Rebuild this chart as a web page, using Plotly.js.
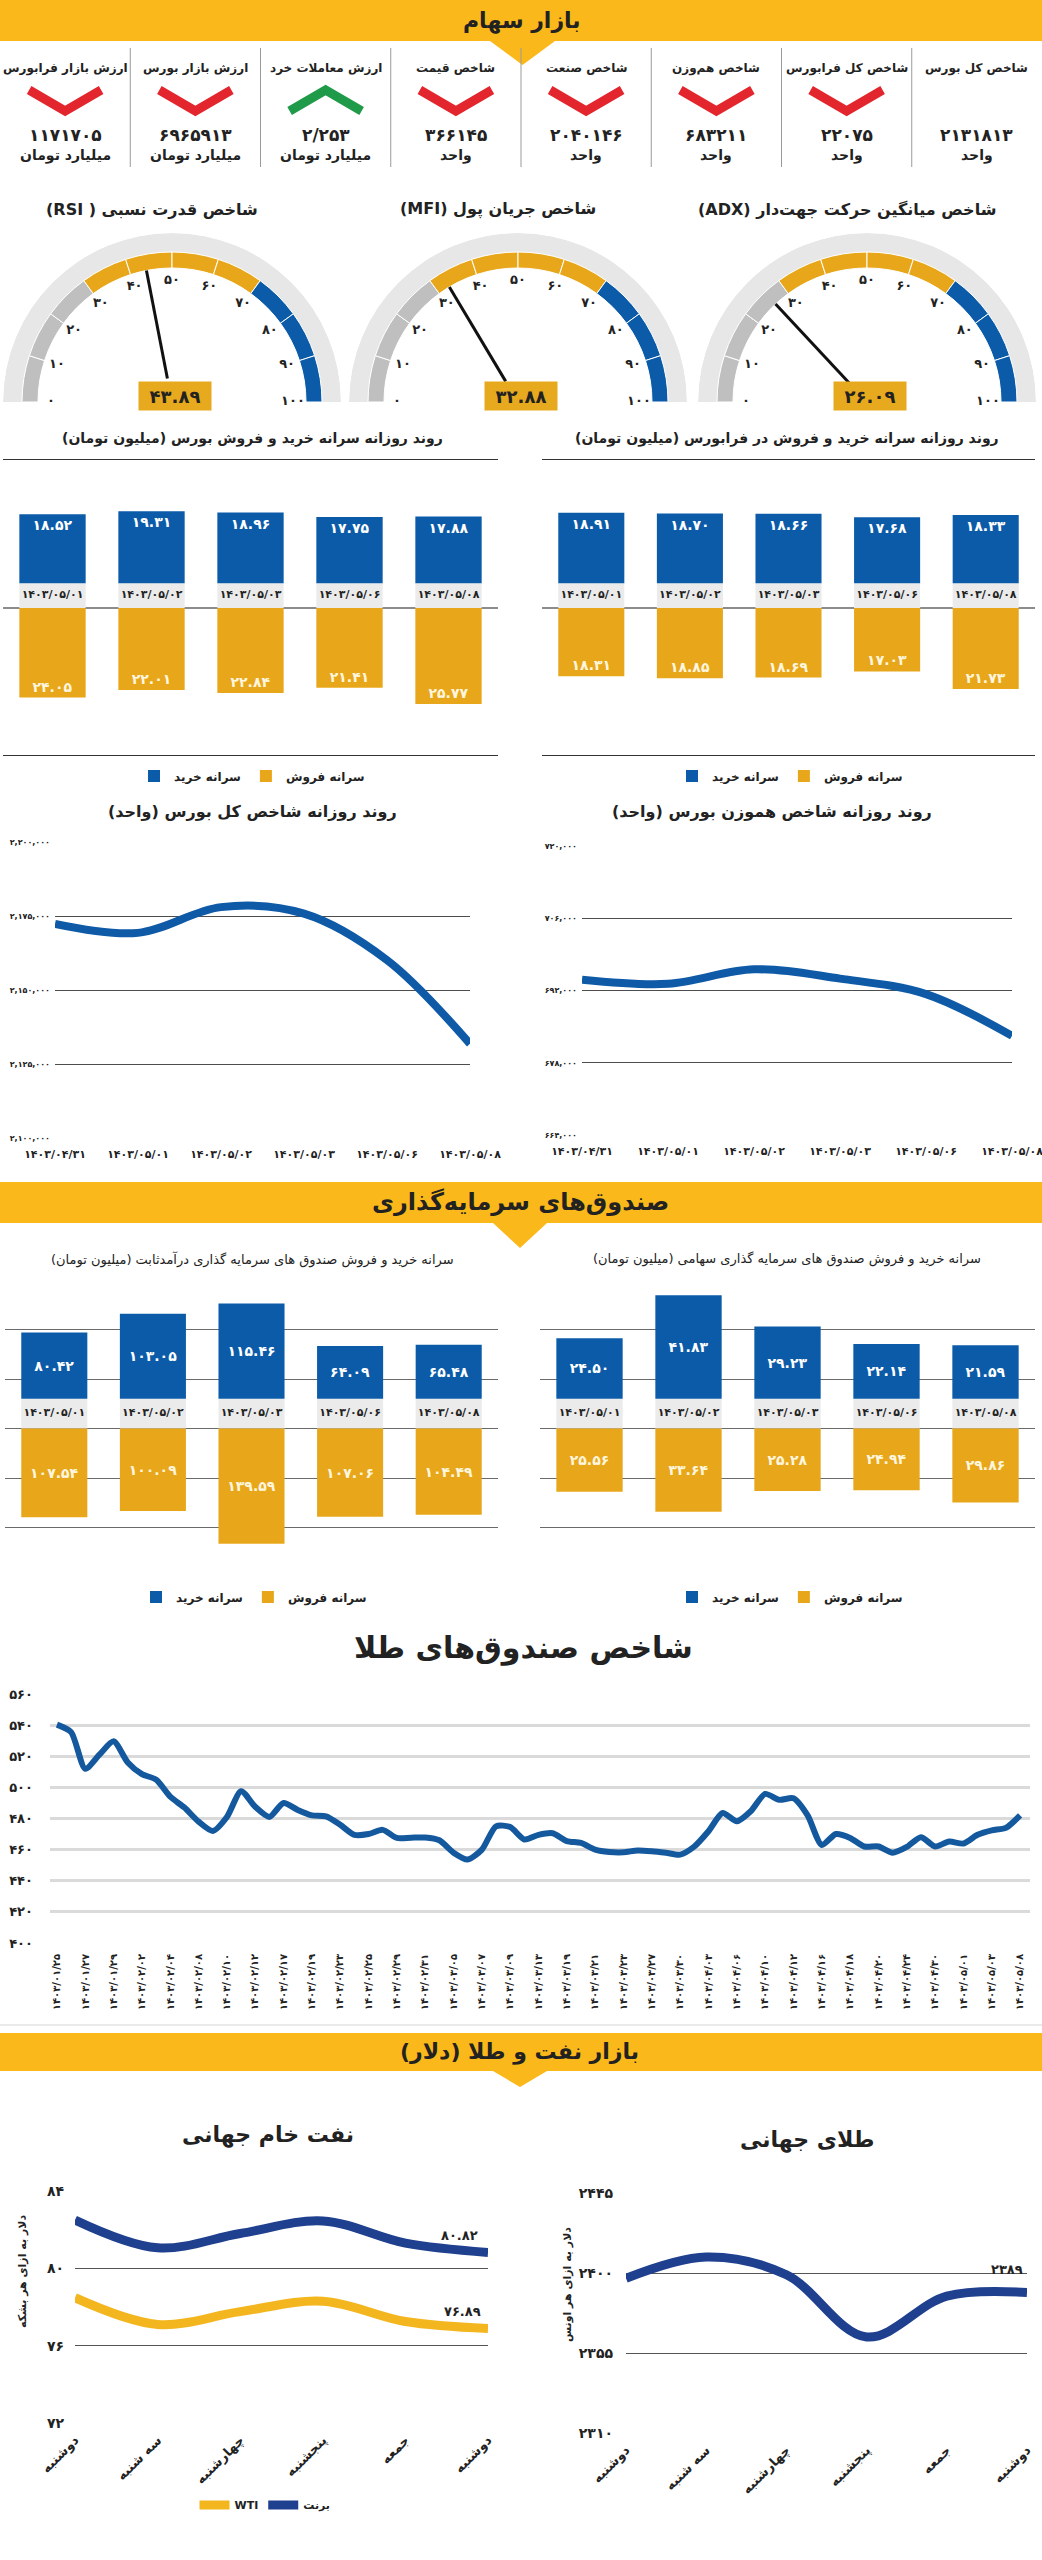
<!DOCTYPE html>
<html><head><meta charset="utf-8">
<script src="https://cdn.plot.ly/plotly-3.0.1.min.js"></script>
<style>html,body{margin:0;padding:0;background:#fff}#chart{width:1042px;height:2560px}</style>
</head><body><div id="chart"></div>
<script>
// ---------------- DATA ----------------
const statTitles = ['ارزش بازار فرابورس','ارزش بازار بورس','ارزش معاملات خرد','شاخص قیمت','شاخص صنعت','شاخص هم‌وزن','شاخص کل فرابورس','شاخص کل بورس'];
const statValues = ['1171705','6965913','2/253','366145','2040146','683211','22075','2131813'];
const statUnits = ['میلیارد تومان','میلیارد تومان','میلیارد تومان','واحد','واحد','واحد','واحد','واحد'];
const statTrend = [-1,-1,1,-1,-1,-1,-1,0];

const gaugeTitles = ['شاخص قدرت نسبی ( RSI)','شاخص جریان پول (MFI)','شاخص میانگین حرکت جهت‌دار (ADX)'];
const gaugeValues = [43.89, 32.88, 26.09];
const gaugeTicks = [0,10,20,30,40,50,60,70,80,90,100];
const gaugeZones = [30, 70];

const days5 = ['1403/05/01','1403/05/02','1403/05/03','1403/05/06','1403/05/08'];
const bourseBuy = [18.52, 19.31, 18.96, 17.75, 17.88];
const bourseSell = [24.05, 22.01, 22.84, 21.41, 25.77];
const faraBuy = [18.91, 18.70, 18.66, 17.68, 18.33];
const faraSell = [18.31, 18.85, 18.69, 17.03, 21.73];

const days6 = ['1403/04/31','1403/05/01','1403/05/02','1403/05/03','1403/05/06','1403/05/08'];
const tedpix = [2172300, 2169300, 2178000, 2175800, 2160100, 2131813];
const tedpixTicks = [2100000, 2125000, 2150000, 2175000, 2200000];
const hamvazn = [694100, 693300, 696100, 694300, 691300, 683211];
const hamvaznTicks = [664000, 678000, 692000, 706000, 720000];

const fixedBuy = [80.42, 103.05, 115.46, 64.09, 65.48];
const fixedSell = [107.54, 100.09, 139.59, 107.06, 104.49];
const equityBuy = [24.50, 41.83, 29.23, 22.14, 21.59];
const equitySell = [25.56, 33.64, 25.28, 24.94, 29.86];

const goldFundDates = ['1403/01/25','1403/01/27','1403/01/29','1403/02/02','1403/02/04','1403/02/08','1403/02/10','1403/02/12','1403/02/17','1403/02/19','1403/02/23','1403/02/25','1403/02/29','1403/02/31','1403/03/05','1403/03/07','1403/03/09','1403/03/13','1403/03/19','1403/03/21','1403/03/23','1403/03/27','1403/03/30','1403/04/03','1403/04/06','1403/04/10','1403/04/12','1403/04/16','1403/04/18','1403/04/20','1403/04/24','1403/04/30','1403/05/01','1403/05/03','1403/05/08'];
const goldFundIndex = [540.3,535.5,512,521,529.6,516,508.5,505,494,487,478,472,481,497.5,487.5,481,490,485.5,482,481.4,476,469.5,470,472.7,467.5,467.7,467.8,466,458,453.6,460,475,474.5,466.5,469.5,470.5,465.5,464.3,460,458.5,458.3,459.5,459,458,456.8,462,471.8,483.5,478.2,484.8,495.8,492,493,482,463,470,467.5,462,462,458,461.7,468,462,465.2,463.9,469.5,472.4,474,482];
const goldFundTicks = [400,420,440,460,480,500,520,540,560];

const weekdays = ['دوشنبه','سه شنبه','چهارشنبه','پنجشنبه','جمعه','دوشنبه'];
const brent = [82.5, 81.06, 81.8, 82.45, 81.3, 80.82];
const wti = [78.48, 77.1, 77.76, 78.3, 77.25, 76.89];
const oilTicks = [72, 76, 80, 84];
const worldGold = [2397, 2409, 2399, 2364, 2387, 2389];
const worldGoldTicks = [2310, 2355, 2400, 2445];

// ---------------- HELPERS ----------------
const W = 1042, H = 2560;
const fx = x => x / W;
const fy = y => 1 - y / H;
const fa = s => String(s).replace(/[0-9]/g, d => '۰۱۲۳۴۵۶۷۸۹'[+d]);
const rtl = s => '\u202B' + s + '\u202C';
const FONT = '"DejaVu Sans", "Noto Sans", sans-serif';
const BLUE = '#0b5ba9', GOLD = '#e8a71b', NAVY = '#1f3f8f', YEL = '#fbb81a', WTIC = '#f4b61e';
const axKey = (k, t) => t + 'axis' + (k > 1 ? k : '');
const axRef = (k, t) => t + (k > 1 ? k : '');
const f = (size, extra) => Object.assign({family: FONT, size: size, color: '#222', weight: 'bold'}, extra || {});

const traces = [], ann = [], shapes = [];
const layout = {
  width: W, height: H, margin: {l: 0, r: 0, t: 0, b: 0},
  paper_bgcolor: '#fff', plot_bgcolor: 'rgba(0,0,0,0)',
  barmode: 'overlay', font: {family: FONT, color: '#222'}, showlegend: true
};

function text(x, y, s, font, extra) {
  ann.push(Object.assign({xref: 'paper', yref: 'paper', x: fx(x), y: fy(y), text: s, showarrow: false,
    xanchor: 'center', yanchor: 'middle', font: font}, extra || {}));
}
function band(y0, y1, tipY, tx0, tx1) {
  shapes.push({type: 'rect', xref: 'paper', yref: 'paper', x0: 0, x1: 1, y0: fy(y1), y1: fy(y0), fillcolor: YEL, line: {width: 0}, layer: 'below'});
  shapes.push({type: 'path', xref: 'paper', yref: 'paper', layer: 'below',
    path: `M ${fx(tx0)},${fy(y1)} L ${fx(tx1)},${fy(y1)} L ${fx((tx0 + tx1) / 2)},${fy(tipY)} Z`, fillcolor: YEL, line: {width: 0}});
}

// ---------------- SECTION 1 HEADER ----------------
band(0, 41, 65, 490, 555);
text(522, 21, 'بازار سهام', f(22));
const colW = W / statTitles.length;
statTitles.forEach((t, i) => {
  const cx = colW * (i + 0.5);
  if (i > 0) shapes.push({type: 'line', xref: 'paper', yref: 'paper', x0: fx(colW * i), x1: fx(colW * i), y0: fy(48), y1: fy(167), line: {color: '#9a9a9a', width: 1}});
  text(cx, 68, t, f(12));
  text(cx, 135, fa(statValues[i]), f(17));
  text(cx, 156, statUnits[i], f(14));
  const tr = statTrend[i];
  if (tr !== 0) {
    const yA = tr < 0 ? 90 : 111, yB = tr < 0 ? 111 : 90;
    shapes.push({type: 'path', xref: 'paper', yref: 'paper',
      path: `M ${fx(cx - 36)},${fy(yA)} L ${fx(cx)},${fy(yB)} L ${fx(cx + 36)},${fy(yA)}`,
      line: {color: tr < 0 ? '#e3262e' : '#1f9a48', width: 9}});
  }
});

// ---------------- GAUGES ----------------
const gCenters = [172, 518, 867], gCy = 402, gR = 169;
gaugeValues.forEach((v, g) => {
  const pk = 'polar' + (g ? g + 1 : '');
  const cx = gCenters[g];
  layout[pk] = {domain: {x: [fx(cx - gR), fx(cx + gR)], y: [fy(gCy), fy(gCy - gR)]}, sector: [0, 180],
    bgcolor: 'rgba(0,0,0,0)', radialaxis: {visible: false, range: [0, gR]},
    angularaxis: {visible: false, rotation: 180, direction: 'clockwise'}};
  traces.push({type: 'barpolar', subplot: pk, r: [19], base: [150], theta: [90], width: [180],
    marker: {color: '#e7e7e7', line: {width: 0}}, showlegend: false, hoverinfo: 'skip'});
  const segs = gaugeTicks.slice(0, -1);
  traces.push({type: 'barpolar', subplot: pk, r: segs.map(() => 16), base: segs.map(() => 134),
    theta: segs.map(s => (s + 5) * 1.8), width: segs.map(() => 18),
    marker: {color: segs.map(s => s < gaugeZones[0] ? '#bfbfbf' : (s < gaugeZones[1] ? GOLD : BLUE)), line: {color: '#fff', width: 1}},
    showlegend: false, hoverinfo: 'skip'});
  traces.push({type: 'scatterpolar', subplot: pk, mode: 'text', r: gaugeTicks.map(() => 121), theta: gaugeTicks.map(s => s * 1.8),
    text: gaugeTicks.map(fa), textfont: f(13), cliponaxis: false, showlegend: false, hoverinfo: 'skip'});
  traces.push({type: 'scatterpolar', subplot: pk, mode: 'lines', r: [24, 134], theta: [v * 1.8, v * 1.8],
    line: {color: '#111', width: 3}, showlegend: false, hoverinfo: 'skip'});
  text(cx + 3, 396, fa(v.toFixed(2)), f(18), {bgcolor: '#e7a91e', width: 64, height: 20, borderpad: 4});
  text(cx - 20, 209, rtl(gaugeTitles[g]), f(16));
});

// ---------------- SPLIT BAR CHARTS ----------------
function splitBars(k, buy, sell, strip, legendId, anchor, o) {
  const xr = axRef(k, 'x'), yr = axRef(k, 'y');
  const cats = days5.map(fa);
  layout[axKey(k, 'x')] = {domain: [fx(o.x0), fx(o.x1)], anchor: yr, type: 'category', range: [-0.5, 4.5],
    showticklabels: false, ticks: '', showgrid: false, zeroline: false,
    showline: !!o.frame, mirror: !!o.frame, linecolor: '#333', linewidth: 1.2};
  layout[axKey(k, 'y')] = Object.assign({domain: [fy(o.y1), fy(o.y0)], anchor: xr, range: o.yr,
    showticklabels: false, ticks: '', showline: false}, o.ya);
  traces.push({type: 'bar', x: cats, y: cats.map(() => strip), base: cats.map(() => 0), width: 0.67,
    marker: {color: '#ebebeb'}, xaxis: xr, yaxis: yr, showlegend: false, hoverinfo: 'skip'});
  traces.push({type: 'scatter', mode: 'text', x: cats, y: cats.map(() => strip / 2), text: cats,
    textfont: f(11), xaxis: xr, yaxis: yr, showlegend: false, hoverinfo: 'skip', cliponaxis: false});
  traces.push({type: 'bar', name: 'سرانه خرید', x: cats, y: buy, base: cats.map(() => strip), width: 0.67,
    marker: {color: BLUE}, text: buy.map(v => fa(v.toFixed(2))), textposition: 'inside', insidetextanchor: anchor,
    textangle: 0, textfont: f(14, {color: '#fff'}), xaxis: xr, yaxis: yr, legend: legendId, hoverinfo: 'skip'});
  traces.push({type: 'bar', name: 'سرانه فروش', x: cats, y: sell.map(v => -v), base: cats.map(() => 0), width: 0.67,
    marker: {color: GOLD}, text: sell.map(v => fa(v.toFixed(2))), textposition: 'inside', insidetextanchor: anchor,
    textangle: 0, textfont: f(14, {color: '#fff6df'}), xaxis: xr, yaxis: yr, legend: legendId, hoverinfo: 'skip'});
}
const legendBase = {orientation: 'h', xanchor: 'center', yanchor: 'middle', bgcolor: 'rgba(0,0,0,0)',
  font: f(12), traceorder: 'normal', itemwidth: 30};

text(252, 438, rtl('روند روزانه سرانه خرید و فروش بورس (میلیون تومان)'), f(14));
text(787, 438, rtl('روند روزانه سرانه خرید و فروش در فرابورس (میلیون تومان)'), f(14));
const y1Axis = {showgrid: false, zeroline: true, zerolinecolor: '#8c8c8c', zerolinewidth: 1.5};
splitBars(1, bourseBuy, bourseSell, 6.7, 'legend', 'end', {x0: 3, x1: 498, y0: 460, y1: 755, yr: [-39.5, 39.8], frame: true, ya: y1Axis});
splitBars(2, faraBuy, faraSell, 6.7, 'legend2', 'end', {x0: 542, x1: 1035, y0: 460, y1: 755, yr: [-39.5, 39.8], frame: true, ya: y1Axis});
layout.legend = Object.assign({}, legendBase, {x: fx(252), y: fy(776)});
layout.legend2 = Object.assign({}, legendBase, {x: fx(790), y: fy(776)});

// ---------------- LINE CHARTS (index) ----------------
function lineAxes(k, o) {
  const xr = axRef(k, 'x'), yr = axRef(k, 'y');
  layout[axKey(k, 'x')] = Object.assign({domain: [fx(o.x0), fx(o.x1)], anchor: yr, showgrid: false, zeroline: false,
    showline: false, ticks: '', ticklabeloverflow: 'allow'}, o.xa);
  layout[axKey(k, 'y')] = Object.assign({domain: [fy(o.y1), fy(o.y0)], anchor: xr, zeroline: false, showline: false,
    ticks: '', showgrid: true, ticklabeloverflow: 'allow'}, o.ya);
}
const idx6 = days6.map((d, i) => i);
text(252, 812, rtl('روند روزانه شاخص کل بورس (واحد)'), f(16));
text(772, 812, rtl('روند روزانه شاخص هموزن بورس (واحد)'), f(16));
lineAxes(3, {x0: 55, x1: 470, y0: 842, y1: 1138,
  xa: {range: [0, 5], tickvals: idx6, ticktext: days6.map(fa), tickfont: f(11), ticklabelstandoff: 8},
  ya: {range: [2100000, 2200000], tickvals: tedpixTicks, ticktext: tedpixTicks.map(v => fa(v.toLocaleString('en-US'))),
    tickfont: f(8), gridcolor: '#4d4d4d', gridwidth: 1, ticklabelstandoff: 4}});
lineAxes(4, {x0: 582, x1: 1012, y0: 846, y1: 1135,
  xa: {range: [0, 5], tickvals: idx6, ticktext: days6.map(fa), tickfont: f(11), ticklabelstandoff: 8},
  ya: {range: [664000, 720000], tickvals: hamvaznTicks, ticktext: hamvaznTicks.map(v => fa(v.toLocaleString('en-US'))),
    tickfont: f(8), gridcolor: '#4d4d4d', gridwidth: 1, ticklabelstandoff: 4}});
traces.push({type: 'scatter', mode: 'lines', x: idx6, y: tedpix, xaxis: 'x3', yaxis: 'y3',
  line: {color: '#0e5aa7', width: 8, shape: 'spline', smoothing: 1}, showlegend: false, hoverinfo: 'skip'});
traces.push({type: 'scatter', mode: 'lines', x: idx6, y: hamvazn, xaxis: 'x4', yaxis: 'y4',
  line: {color: '#0e5aa7', width: 8, shape: 'spline', smoothing: 1}, showlegend: false, hoverinfo: 'skip'});

// ---------------- SECTION 2 ----------------
band(1182, 1223, 1248, 493, 547);
text(520, 1202, 'صندوق‌های سرمایه‌گذاری', f(24));
text(252, 1259, rtl('سرانه خرید و فروش صندوق های سرمایه گذاری درآمدثابت (میلیون تومان)'), f(13, {weight: 'normal'}));
text(787, 1259, rtl('سرانه خرید و فروش صندوق های سرمایه گذاری سهامی (میلیون تومان)'), f(13, {weight: 'normal'}));
splitBars(5, fixedBuy, fixedSell, 36, 'legend3', 'middle', {x0: 5, x1: 498, y0: 1280, y1: 1577, yr: [-180, 180],
  ya: {showgrid: true, dtick: 60, tick0: 0, gridcolor: '#6a6a6a', gridwidth: 1, zeroline: false}});
splitBars(6, equityBuy, equitySell, 12, 'legend4', 'middle', {x0: 540, x1: 1035, y0: 1280, y1: 1577, yr: [-60, 60],
  ya: {showgrid: true, dtick: 20, tick0: 0, gridcolor: '#6a6a6a', gridwidth: 1, zeroline: false}});
layout.legend3 = Object.assign({}, legendBase, {x: fx(254), y: fy(1597)});
layout.legend4 = Object.assign({}, legendBase, {x: fx(790), y: fy(1597)});

// ---------------- GOLD FUNDS INDEX ----------------
text(523, 1648, 'شاخص صندوق‌های طلا', f(30));
const goldIdx = goldFundIndex.map((v, i) => i);
lineAxes(7, {x0: 50, x1: 1030, y0: 1694, y1: 1943,
  xa: {range: [-0.49, 68.7], tickvals: goldFundDates.map((d, i) => i * 2), ticktext: goldFundDates.map(fa),
    tickangle: -90, tickfont: f(10), ticklabelstandoff: 8},
  ya: {range: [400, 560], tickvals: goldFundTicks, ticktext: goldFundTicks.map(fa), tickfont: f(13),
    gridcolor: '#dadada', gridwidth: 3, ticklabelstandoff: 16}});
traces.push({type: 'scatter', mode: 'lines', x: goldIdx, y: goldFundIndex, xaxis: 'x7', yaxis: 'y7',
  line: {color: '#14599d', width: 6, shape: 'spline', smoothing: 0.7}, showlegend: false, hoverinfo: 'skip'});
shapes.push({type: 'line', xref: 'paper', yref: 'paper', x0: 0, x1: 1, y0: fy(2025), y1: fy(2025), line: {color: '#d5d5d5', width: 1}});

// ---------------- SECTION 3 ----------------
band(2033, 2071, 2087, 493, 547);
text(519, 2052, rtl('بازار نفت و طلا (دلار)'), f(22));

text(268, 2135, 'نفت خام جهانی', f(22));
text(807, 2140, 'طلای جهانی', f(22));
const idxW = weekdays.map((d, i) => i);
lineAxes(8, {x0: 75, x1: 488, y0: 2191, y1: 2423,
  xa: {range: [0, 5], tickvals: idxW, ticktext: weekdays, tickangle: -45, tickfont: f(13), ticklabelstandoff: 6},
  ya: {range: [72, 84], tickvals: oilTicks, ticktext: oilTicks.map(fa), tickfont: f(14), gridcolor: '#555', gridwidth: 1, ticklabelstandoff: 10}});
lineAxes(9, {x0: 626, x1: 1027, y0: 2193, y1: 2433,
  xa: {range: [0, 5], tickvals: idxW, ticktext: weekdays, tickangle: -45, tickfont: f(13), ticklabelstandoff: 6},
  ya: {range: [2310, 2445], tickvals: worldGoldTicks, ticktext: worldGoldTicks.map(fa), tickfont: f(14), gridcolor: '#555', gridwidth: 1, ticklabelstandoff: 12}});
traces.push({type: 'scatter', mode: 'lines', name: 'WTI', x: idxW, y: wti, xaxis: 'x8', yaxis: 'y8',
  line: {color: WTIC, width: 9, shape: 'spline', smoothing: 1}, legend: 'legend5', hoverinfo: 'skip'});
traces.push({type: 'scatter', mode: 'lines', name: 'برنت', x: idxW, y: brent, xaxis: 'x8', yaxis: 'y8',
  line: {color: NAVY, width: 9, shape: 'spline', smoothing: 1}, legend: 'legend5', hoverinfo: 'skip'});
traces.push({type: 'scatter', mode: 'lines', x: idxW, y: worldGold, xaxis: 'x9', yaxis: 'y9',
  line: {color: NAVY, width: 9, shape: 'spline', smoothing: 1}, showlegend: false, hoverinfo: 'skip'});
layout.legend5 = Object.assign({}, legendBase, {x: fx(265), y: fy(2505), font: f(11)});

ann.push({xref: 'x8', yref: 'y8', x: 5, y: brent[5], text: fa(brent[5].toFixed(2)), showarrow: false, xanchor: 'right', yanchor: 'bottom', xshift: -8, yshift: 7, font: f(13)});
ann.push({xref: 'x8', yref: 'y8', x: 5, y: wti[5], text: fa(wti[5].toFixed(2)), showarrow: false, xanchor: 'right', yanchor: 'bottom', xshift: -5, yshift: 7, font: f(13)});
ann.push({xref: 'x9', yref: 'y9', x: 5, y: worldGold[5], text: fa(worldGold[5]), showarrow: false, xanchor: 'right', yanchor: 'bottom', xshift: -2, yshift: 14, font: f(13)});
text(22, 2272, rtl('دلار به ازای هر بشکه'), f(11), {textangle: -90});
text(567, 2285, rtl('دلار به ازای هر اونس'), f(11), {textangle: -90});

layout.annotations = ann;
layout.shapes = shapes;
Plotly.newPlot('chart', traces, layout, {staticPlot: true, displayModeBar: false});
</script></body></html>
